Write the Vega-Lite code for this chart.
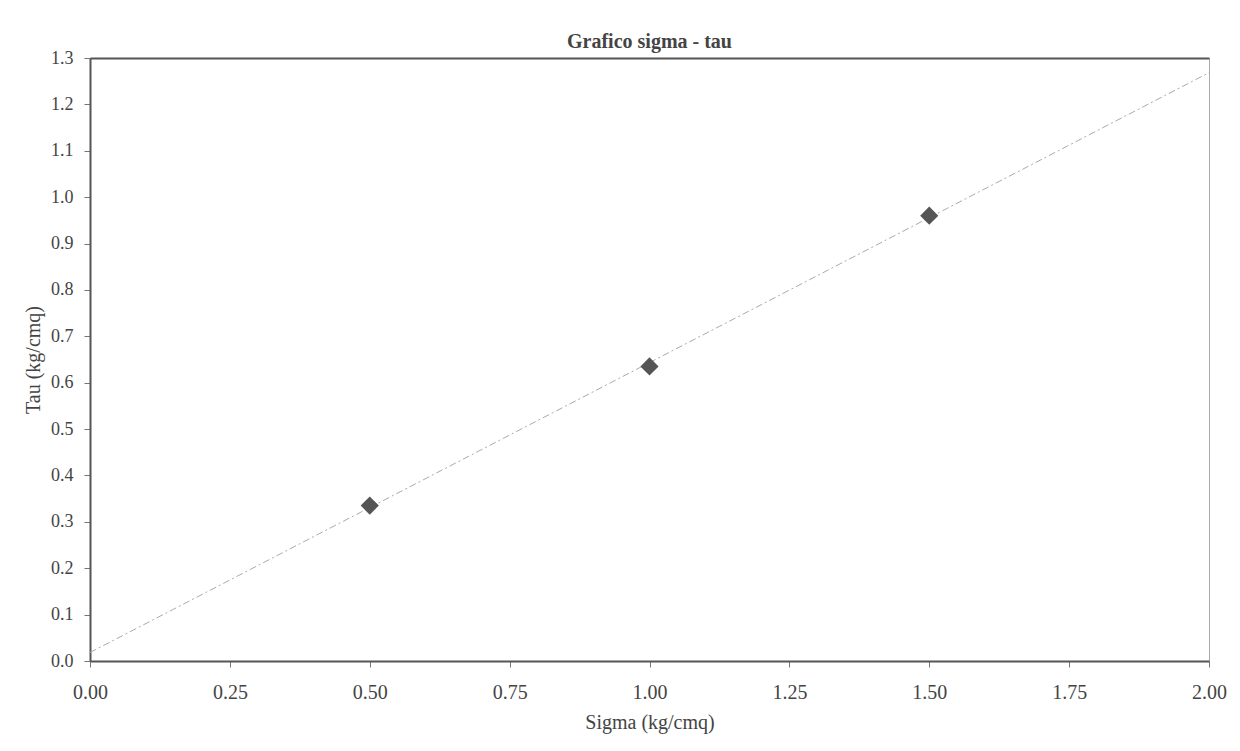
{
  "$schema": "https://vega.github.io/schema/vega-lite/v6.json",
  "autosize": {"type": "none"},
  "padding": {"left": 90, "top": 58, "right": 31, "bottom": 90},
  "width": 1119,
  "height": 603,
  "background": "white",
  "title": {"text": "Grafico sigma - tau", "font": "Liberation Serif", "fontSize": 20, "fontWeight": "bold", "color": "#444", "offset": -3, "anchor": "middle"},
  "config": {
    "view": {"stroke": "#aaa", "strokeWidth": 1},
    "axis": {"grid": false, "zindex": 1, "labelFont": "Liberation Serif", "titleFont": "Liberation Serif", "labelFontSize": 18, "titleFontSize": 20, "labelColor": "#444", "titleColor": "#444", "titleFontWeight": "normal", "domainColor": "#555", "domainWidth": 2, "tickColor": "#777", "tickSize": 6, "labelFlush": false}
  },
  "data": {"values": [
    {"sigma": 0.5, "tau": 0.335},
    {"sigma": 1.0, "tau": 0.635},
    {"sigma": 1.5, "tau": 0.96}
  ]},
  "resolve": {"axis": {"x": "independent"}},
  "layer": [
    {
      "transform": [{"regression": "tau", "on": "sigma", "extent": [0, 2]}],
      "mark": {"type": "line", "color": "#aaa", "strokeWidth": 1, "strokeDash": [7, 3, 2, 3]},
      "encoding": {
        "x": {"field": "sigma", "type": "quantitative", "axis": {"orient": "top", "title": null, "labels": false, "ticks": false}},
        "y": {"field": "tau", "type": "quantitative"}
      }
    },
    {
      "mark": {"type": "point", "shape": "diamond", "filled": true, "color": "#555", "size": 330, "opacity": 1},
      "encoding": {
        "x": {"field": "sigma", "type": "quantitative", "scale": {"domain": [0, 2], "nice": false}, "axis": {"title": "Sigma (kg/cmq)", "values": [0, 0.25, 0.5, 0.75, 1, 1.25, 1.5, 1.75, 2], "format": ".2f", "labelFontSize": 20, "labelPadding": 15, "titlePadding": 10}},
        "y": {"field": "tau", "type": "quantitative", "scale": {"domain": [0, 1.3], "nice": false}, "axis": {"title": "Tau (kg/cmq)", "values": [0, 0.1, 0.2, 0.3, 0.4, 0.5, 0.6, 0.7, 0.8, 0.9, 1.0, 1.1, 1.2, 1.3], "format": ".1f", "labelPadding": 11, "titlePadding": 7}}
      }
    }
  ]
}
